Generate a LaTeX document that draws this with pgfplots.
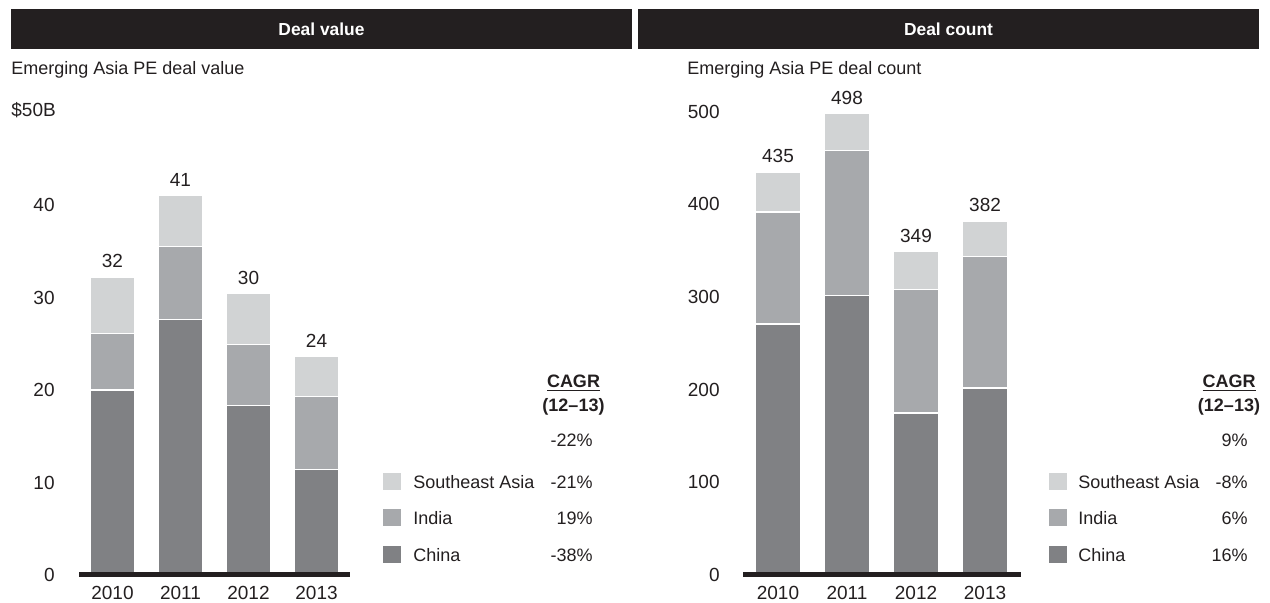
\documentclass[border=0pt]{standalone}
\usepackage{fontspec}
\setmainfont{Liberation Sans}
\usepackage{pgfplots}
\pgfplotsset{compat=1.18}

\definecolor{ink}{HTML}{231F20}
\definecolor{china}{HTML}{808184}
\definecolor{india}{HTML}{A7A9AC}
\definecolor{sea}{HTML}{D1D3D4}

\newcommand{\txt}{\fontsize{9}{11}\selectfont}
\newcommand{\num}{\fontsize{9.5}{11}\selectfont}

\pgfplotsset{dealbars/.style={
    scale only axis,
    ybar stacked, bar width=22.5pt, ymin=0,
    axis line style={draw=none}, major tick style={draw=none},
    xtick={0,1,2,3}, xticklabels={2010,2011,2012,2013},
    ticklabel style={font=\num, text=ink, inner sep=0pt},
    xticklabel style={anchor=north, yshift=-5.5pt},
    /pgf/number format/assume math mode=true,
    every axis plot/.append style={draw=white, line width=0.7pt},
    clip=false,
}}

\begin{document}
\begin{tikzpicture}
\path[use as bounding box] (0,0) rectangle (635pt,301.5pt);

% headers
\fill[ink] (5.5pt,277pt) rectangle (316pt,297pt);
\fill[ink] (319pt,277pt) rectangle (629.5pt,297pt);
\node[text=white, font=\bfseries\fontsize{8.7}{10}\selectfont] at (160.75pt,287pt) {Deal value};
\node[text=white, font=\bfseries\fontsize{8.7}{10}\selectfont] at (474.25pt,287pt) {Deal count};

\node[anchor=west, inner sep=0pt, text=ink, font=\txt] at (5.5pt,266.5pt) {Emerging Asia PE deal value};
\node[anchor=west, inner sep=0pt, text=ink, font=\num] at (5.5pt,246.5pt) {\$50B};
\node[anchor=west, inner sep=0pt, text=ink, font=\txt] at (343.5pt,266.5pt) {Emerging Asia PE deal count};

% deal value
\begin{axis}[dealbars, at={(39.5pt,14pt)}, anchor=south west,
    width=135.5pt, height=231.25pt, ymax=50,
    xmin=-0.4926, xmax=3.4926,
    ytick={0,10,20,30,40},
    yticklabel style={anchor=east, xshift=-12pt}]
\addplot[fill=china] coordinates {(0,20.0) (1,27.6) (2,18.3) (3,11.4)};
\addplot[fill=india] coordinates {(0,6.1) (1,7.9) (2,6.6) (3,7.9)};
\addplot[fill=sea] coordinates {(0,6.1) (1,5.5) (2,5.5) (3,4.3)};
\node[anchor=south, inner sep=0pt, yshift=4.5pt, text=ink, font=\num] at (axis cs:0,32.2) {32};
\node[anchor=south, inner sep=0pt, yshift=4.5pt, text=ink, font=\num] at (axis cs:1,41.0) {41};
\node[anchor=south, inner sep=0pt, yshift=4.5pt, text=ink, font=\num] at (axis cs:2,30.4) {30};
\node[anchor=south, inner sep=0pt, yshift=4.5pt, text=ink, font=\num] at (axis cs:3,23.6) {24};
\end{axis}

% deal count
\begin{axis}[dealbars, at={(371.5pt,14pt)}, anchor=south west,
    width=139pt, height=231.6pt, ymax=500,
    xmin=-0.507, xmax=3.522,
    ytick={0,100,200,300,400,500},
    yticklabel style={anchor=east, xshift=-11.5pt}]
\addplot[fill=china] coordinates {(0,271) (1,302) (2,175) (3,202)};
\addplot[fill=india] coordinates {(0,121) (1,156) (2,133) (3,142)};
\addplot[fill=sea] coordinates {(0,43) (1,40) (2,41) (3,38)};
\node[anchor=south, inner sep=0pt, yshift=4.5pt, text=ink, font=\num] at (axis cs:0,435) {435};
\node[anchor=south, inner sep=0pt, yshift=4.5pt, text=ink, font=\num] at (axis cs:1,498) {498};
\node[anchor=south, inner sep=0pt, yshift=4.5pt, text=ink, font=\num] at (axis cs:2,349) {349};
\node[anchor=south, inner sep=0pt, yshift=4.5pt, text=ink, font=\num] at (axis cs:3,382) {382};
\end{axis}

% base lines, drawn over the bars
\draw[ink, line width=2.5pt] (39.5pt,14.3pt) -- (175pt,14.3pt);
\draw[ink, line width=2.5pt] (371.5pt,14.3pt) -- (510.5pt,14.3pt);

% legends / CAGR
\foreach \lx/\tx/\vx/\cx/\va/\vb/\vc/\vd in {191.5/206.5/296.5/286.75/-22\%/-21\%/19\%/-38\%, 524.5/539/624/614.5/9\%/-8\%/6\%/16\%}{
  \node[text=ink, font=\bfseries\txt] at (\cx pt,110pt) {\underline{CAGR}};
  \node[text=ink, font=\bfseries\txt] at (\cx pt,98.2pt) {(12–13)};
  \node[anchor=east, inner sep=0pt, text=ink, font=\txt] at (\vx pt,81.5pt) {\va};
  \fill[sea] (\lx pt,56.25pt) rectangle ++(9pt,8.5pt);
  \fill[india] (\lx pt,38.25pt) rectangle ++(9pt,8.5pt);
  \fill[china] (\lx pt,19.75pt) rectangle ++(9pt,8.5pt);
  \node[anchor=west, inner sep=0pt, text=ink, font=\txt] at (\tx pt,60.5pt) {Southeast Asia};
  \node[anchor=west, inner sep=0pt, text=ink, font=\txt] at (\tx pt,42.5pt) {India};
  \node[anchor=west, inner sep=0pt, text=ink, font=\txt] at (\tx pt,24pt) {China};
  \node[anchor=east, inner sep=0pt, text=ink, font=\txt] at (\vx pt,60.5pt) {\vb};
  \node[anchor=east, inner sep=0pt, text=ink, font=\txt] at (\vx pt,42.5pt) {\vc};
  \node[anchor=east, inner sep=0pt, text=ink, font=\txt] at (\vx pt,24pt) {\vd};
}
\end{tikzpicture}
\end{document}
